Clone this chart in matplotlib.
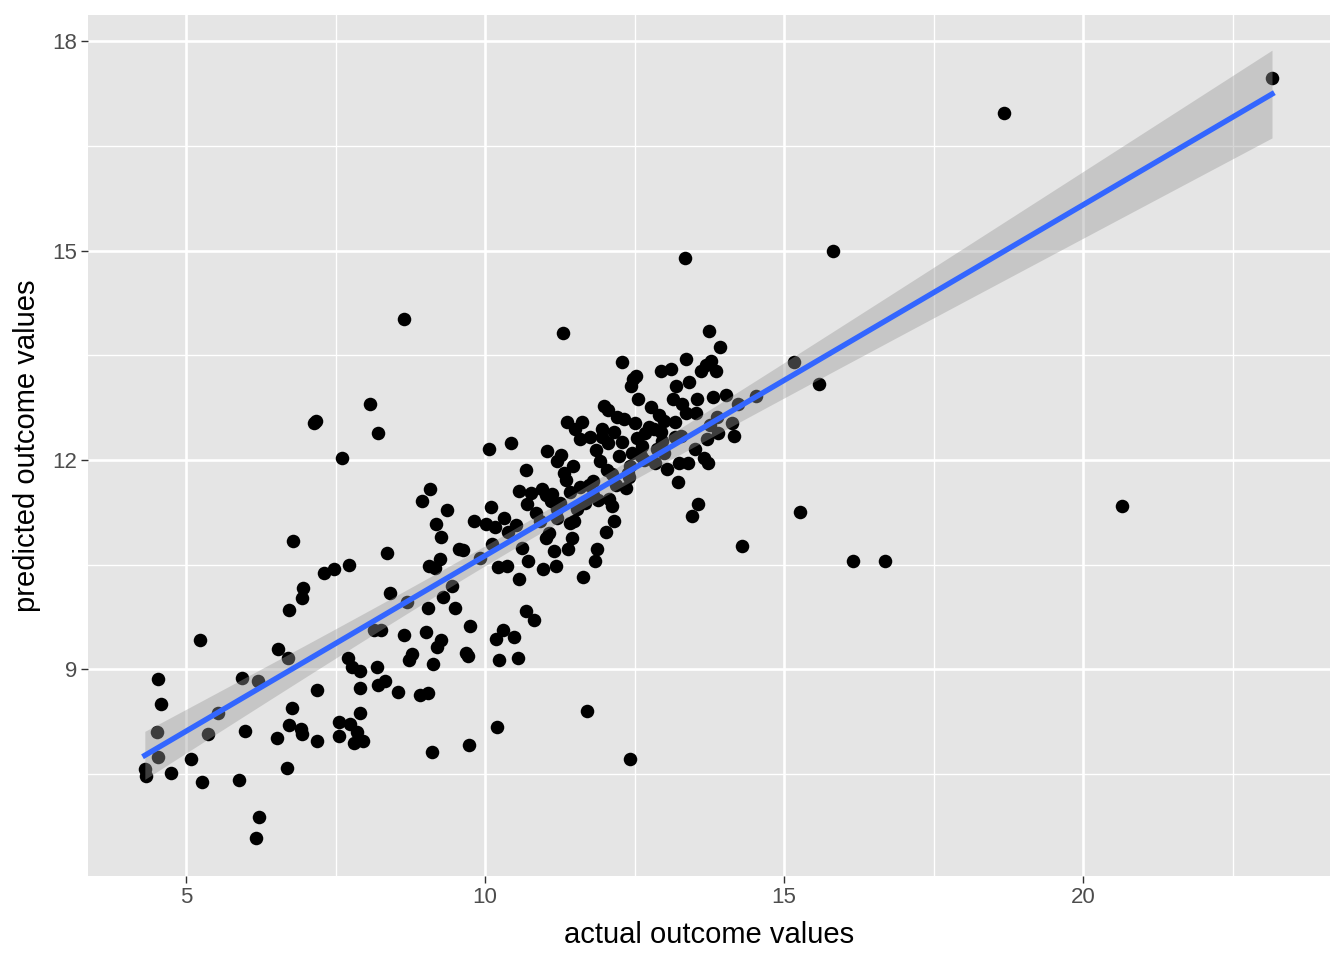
"""
plot.py

Actual vs predicted outcome values with a linear fit and 95% confidence band,
styled after ggplot2's default grey theme.
"""

import numpy as np
import matplotlib
matplotlib.use("Agg")
import matplotlib.pyplot as plt
from matplotlib.ticker import FixedLocator

# ─── Data ──────────────────────────────────────────────────────────────────────
actual = [
    4.31, 4.33, 4.52, 4.53, 4.53, 4.58, 4.75, 5.08, 5.23, 5.27, 5.37, 5.54,
    5.89, 5.94, 5.99, 6.20, 6.22, 6.17, 6.52, 6.54, 6.69, 6.71, 6.72, 6.77,
    6.72, 6.79, 6.92, 6.94, 6.94, 6.96, 7.14, 7.17, 7.19, 7.19, 7.31, 7.47,
    7.56, 7.56, 7.61, 7.71, 7.73, 7.74, 7.78, 7.81, 7.86, 7.91, 7.91, 7.91,
    7.96, 8.08, 8.14, 8.21, 8.19, 8.21, 8.26, 8.33, 8.36, 8.41, 8.55, 8.65,
    8.65, 8.70, 8.73, 8.78, 8.91, 8.95, 9.04, 9.01, 9.05, 9.06, 9.08, 9.11,
    9.13, 9.16, 9.18, 9.20, 9.25, 9.26, 9.26, 9.30, 9.36, 9.45, 9.50, 9.57,
    9.63, 9.68, 9.72, 9.75, 9.73, 9.82, 9.92, 10.02, 10.07, 10.10, 10.12, 10.17,
    10.18, 10.20, 10.22, 10.23, 10.30, 10.32, 10.37, 10.39, 10.44, 10.49, 10.52, 10.55,
    10.56, 10.56, 10.61, 10.69, 10.69, 10.70, 10.72, 10.81, 10.77, 10.85, 10.92, 10.95,
    10.97, 11.02, 11.04, 11.07, 11.10, 11.12, 11.15, 11.19, 11.20, 11.20, 11.25, 11.27,
    11.30, 11.32, 11.35, 11.37, 11.39, 11.42, 11.45, 11.47, 11.49, 11.50, 11.54, 11.59,
    11.62, 11.64, 11.67, 11.71, 11.74, 11.76, 11.81, 11.84, 11.87, 11.89, 11.92, 11.96,
    11.99, 12.02, 12.04, 12.06, 12.07, 12.12, 12.16, 12.16, 12.19, 12.21, 12.24, 12.29,
    12.29, 12.32, 12.36, 12.39, 12.42, 12.42, 12.44, 12.47, 12.51, 12.53, 12.54, 12.56,
    12.61, 12.68, 12.74, 12.77, 12.84, 12.88, 12.91, 12.94, 12.96, 12.99, 13.05, 13.11,
    13.14, 13.18, 13.19, 13.23, 13.24, 13.27, 13.34, 13.36, 13.36, 13.39, 13.41, 13.46,
    13.51, 13.53, 13.54, 13.56, 13.61, 13.66, 13.69, 13.71, 13.72, 13.74, 13.76, 13.78,
    13.81, 13.86, 13.88, 13.89, 13.93, 14.03, 14.13, 14.16, 14.23, 14.30, 14.53, 15.17,
    15.27, 15.59, 15.82, 16.15, 16.69, 18.68, 20.65, 23.16,
    # extra points in the dense middle
    11.80, 12.05, 11.95, 12.45, 12.13, 12.62, 12.82, 12.40, 13.00, 13.17,
    11.02, 11.20, 11.42, 11.58, 11.86, 12.65, 12.95, 13.30,
]
predicted = [
    7.57, 7.47, 8.11, 7.75, 8.86, 8.50, 7.51, 7.72, 9.42, 7.38, 8.07, 8.37,
    7.42, 8.87, 8.12, 8.84, 6.89, 6.59, 8.02, 9.29, 7.59, 9.17, 9.85, 8.45,
    8.20, 10.84, 8.14, 8.07, 10.02, 10.16, 12.53, 12.56, 7.97, 8.70, 10.38, 10.44,
    8.24, 8.04, 12.03, 9.17, 10.49, 8.22, 9.04, 7.95, 8.10, 8.97, 8.38, 8.74,
    7.97, 12.80, 9.57, 12.38, 9.03, 8.77, 9.57, 8.84, 10.67, 10.09, 8.68, 14.02,
    9.49, 9.96, 9.13, 9.22, 8.63, 11.41, 9.88, 9.53, 8.66, 10.48, 11.58, 7.82,
    9.08, 10.45, 11.08, 9.32, 10.58, 10.89, 9.42, 10.03, 11.29, 10.20, 9.88, 10.73,
    10.71, 9.23, 9.19, 9.62, 7.91, 11.12, 10.59, 11.08, 12.16, 11.33, 10.79, 11.04,
    9.44, 8.18, 10.46, 9.13, 9.56, 11.17, 10.48, 10.97, 12.24, 9.47, 11.07, 9.16,
    11.56, 10.29, 10.74, 9.83, 11.85, 11.37, 10.56, 9.71, 11.53, 11.24, 11.12, 11.58,
    10.44, 10.88, 12.13, 10.95, 11.41, 11.51, 10.69, 10.48, 11.17, 11.99, 11.38, 12.07,
    13.82, 11.81, 11.72, 12.55, 10.72, 11.54, 10.88, 11.91, 11.12, 12.45, 11.30, 12.30,
    12.55, 10.32, 11.38, 8.41, 11.64, 12.33, 11.50, 10.55, 10.72, 11.43, 11.99, 12.33,
    12.78, 10.97, 11.85, 12.72, 11.44, 11.34, 11.12, 12.40, 11.64, 12.62, 12.06, 12.26,
    13.41, 12.59, 11.60, 11.81, 11.91, 7.71, 13.06, 13.16, 12.53, 13.21, 12.32, 12.88,
    12.06, 12.39, 12.47, 12.76, 11.96, 12.16, 12.65, 13.28, 12.27, 12.56, 11.87, 13.31,
    12.88, 12.33, 13.06, 11.68, 11.96, 12.35, 14.89, 13.45, 12.67, 11.96, 13.12, 11.20,
    12.16, 12.67, 12.88, 11.37, 13.28, 12.03, 13.36, 12.30, 11.96, 13.85, 12.50, 13.42,
    12.90, 13.28, 12.62, 12.39, 13.62, 12.93, 12.53, 12.34, 12.80, 10.77, 12.92, 13.41,
    11.25, 13.09, 15.00, 10.56, 10.56, 16.97, 11.34, 17.47,
    11.70, 12.25, 12.45, 12.10, 11.80, 12.20, 12.45, 11.75, 12.10, 12.55,
    11.50, 11.30, 11.10, 11.62, 12.15, 12.00, 12.40, 12.80,
]

X_LABEL = "actual outcome values"
Y_LABEL = "predicted outcome values"
# ────────────────────────────────────────────────────────────────────────────────


def linear_fit_band(x, y, n_grid=80):
    """OLS line and 95% confidence band, like geom_smooth(method = 'lm')."""
    x = np.asarray(x, float)
    y = np.asarray(y, float)
    n = len(x)
    slope, intercept = np.polyfit(x, y, 1)
    resid = y - (slope * x + intercept)
    s = np.sqrt(np.sum(resid ** 2) / (n - 2))
    xbar = x.mean()
    sxx = np.sum((x - xbar) ** 2)
    grid = np.linspace(x.min(), x.max(), n_grid)
    fit = slope * grid + intercept
    se = s * np.sqrt(1.0 / n + (grid - xbar) ** 2 / sxx)
    t = 1.968  # ~ t quantile for 0.975 with ~280 df
    return grid, fit, fit - t * se, fit + t * se


def main():
    plt.rcParams["font.family"] = ["Liberation Sans", "DejaVu Sans"]

    fig = plt.figure(figsize=(13.44, 9.6), dpi=100)
    ax = fig.add_axes([0.0655, 0.0875, 0.9241, 0.8965])

    ax.set_facecolor("#E5E5E5")
    for spine in ax.spines.values():
        spine.set_visible(False)

    ax.set_xlim(3.36, 24.13)
    ax.set_ylim(6.04, 18.37)

    ax.xaxis.set_major_locator(FixedLocator([5, 10, 15, 20]))
    ax.xaxis.set_minor_locator(FixedLocator([7.5, 12.5, 17.5, 22.5]))
    ax.yaxis.set_major_locator(FixedLocator([9, 12, 15, 18]))
    ax.yaxis.set_minor_locator(FixedLocator([7.5, 10.5, 13.5, 16.5]))

    ax.grid(which="major", color="white", linewidth=1.9)
    ax.grid(which="minor", color="white", linewidth=0.95)
    ax.set_axisbelow(True)

    ax.tick_params(which="major", length=5, width=1.0, color="#333333",
                   labelsize=16, labelcolor="#4D4D4D", pad=3)
    ax.tick_params(which="minor", length=0)

    ax.scatter(actual, predicted, s=95, color="black", linewidths=0, zorder=2)

    grid, fit, lo, hi = linear_fit_band(actual, predicted)
    ax.fill_between(grid, lo, hi, color="#999999", alpha=0.4, linewidth=0, zorder=3)
    ax.plot(grid, fit, color="#3366FF", linewidth=3.9, zorder=4)

    ax.set_xlabel(X_LABEL, fontsize=21, color="black", labelpad=9)
    ax.set_ylabel(Y_LABEL, fontsize=21, color="black", labelpad=8)

    fig.savefig("out.png", dpi=100, facecolor="white")


if __name__ == "__main__":
    main()
